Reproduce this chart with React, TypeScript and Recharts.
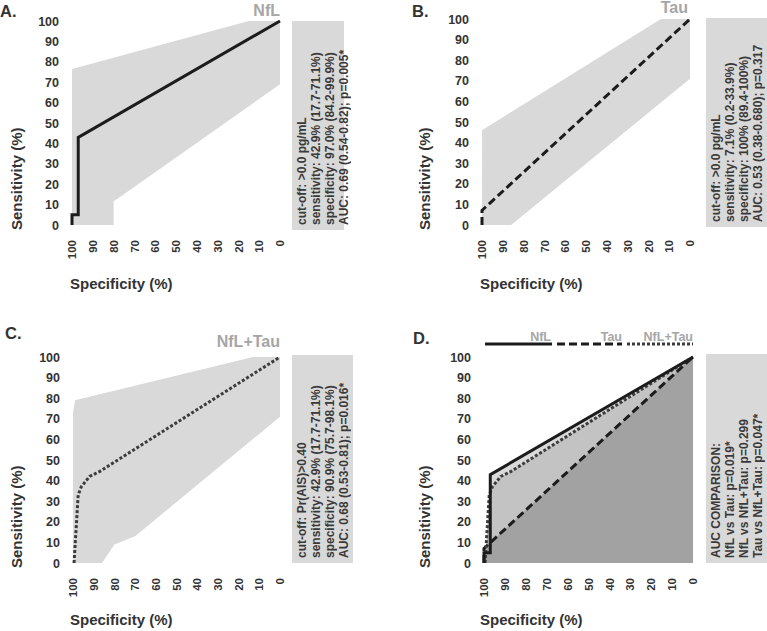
import React from "react";
import { ComposedChart, Line, Area, XAxis, YAxis } from "recharts";

const axisTicks = [0, 10, 20, 30, 40, 50, 60, 70, 80, 90, 100];

// NfL ROC + 95% CI band
const nflSpec = [100, 100, 97, 97, 0];
const nflSens = [0, 5, 5, 42.9, 100];
const nflCiHiSpec = [100, 15, 0];
const nflCiHi = [76.5, 100, 100];
const nflCiLoSpec = [100, 80, 80, 0];
const nflCiLo = [0, 0, 11.5, 69];

// Tau ROC + 95% CI band
const tauSpec = [100, 100, 0];
const tauSens = [0, 7.1, 100];
const tauCiHiSpec = [100, 14, 0];
const tauCiHi = [46, 100, 100];
const tauCiLoSpec = [100, 86, 0];
const tauCiLo = [0, 0, 71];

// NfL+Tau ROC + 95% CI band
const comboSpec = [99.5, 97.5, 96, 92, 87, 0];
const comboSens = [0, 33, 37, 42, 44.5, 100];
const comboCiHiSpec = [100, 99, 13, 0];
const comboCiHi = [73, 79, 100, 100];
const comboCiLoSpec = [100, 86, 80, 70, 0];
const comboCiLo = [0, 0, 9, 13, 71];

const boxA = ["cut-off: >0.0 pg/mL", "sensitivity: 42.9% (17.7-71.1%)", "specificity: 97.0% (84.2-99.9%)", "AUC: 0.69 (0.54-0.82); p=0.005*"];
const boxB = ["cut-off: >0.0 pg/mL", "sensitivity: 7.1% (0.2-33.9%)", "specificity: 100% (89.4-100%)", "AUC: 0.53 (0.38-0.680); p=0.317"];
const boxC = ["cut-off: Pr(AIS)>0.40", "sensitivity: 42.9% (17.7-71.1%)", "specificity: 90.9% (75.7-98.1%)", "AUC: 0.68 (0.53-0.81); p=0.016*"];
const boxD = ["AUC COMPARISON:", "NfL vs Tau: p=0.019*", "NfL vs NfL+Tau: p=0.299", "Tau vs NfL+Tau: p=0.047*"];

const FONT = "'Liberation Sans', Arial, sans-serif";
const INK = "#333";
const BAND = "#d9d9d9";

const rows = (key: string, xs: number[], ys: number[]) =>
  xs.map((s, i) => ({ spec: s, [key]: ys[i] }));

const dataA = [...rows("roc", nflSpec, nflSens), ...rows("hi", nflCiHiSpec, nflCiHi), ...rows("lo", nflCiLoSpec, nflCiLo)];
const dataB = [...rows("roc", tauSpec, tauSens), ...rows("hi", tauCiHiSpec, tauCiHi), ...rows("lo", tauCiLoSpec, tauCiLo)];
const dataC = [...rows("roc", comboSpec, comboSens), ...rows("hi", comboCiHiSpec, comboCiHi), ...rows("lo", comboCiLoSpec, comboCiLo)];
const dataD = [...rows("nfl", nflSpec, nflSens), ...rows("tau", tauSpec, tauSens), ...rows("combo", comboSpec, comboSens)];

type Plot = { left: number; right: number; top: number; bottom: number };

const XTick = ({ x, payload, base }: any) => (
  <text
    transform={`translate(${x},${base + 15}) rotate(-90)`}
    textAnchor="end"
    dy="0.36em"
    fontSize={11.5}
    fontWeight="bold"
    fontFamily={FONT}
    fill={INK}
  >
    {payload.value}
  </text>
);

const YTick = ({ y, payload, edge }: any) => (
  <text x={edge} y={y} dy="0.36em" textAnchor="end" fontSize={12.5} fontWeight="bold" fontFamily={FONT} fill={INK}>
    {payload.value}
  </text>
);

const RocFrame = ({ plot, data, children }: { plot: Plot; data: any[]; children: React.ReactNode }) => (
  <ComposedChart
    width={plot.right + 10}
    height={plot.bottom + 40}
    data={data}
    margin={{ top: plot.top, right: 10, left: 0, bottom: 0 }}
  >
    <XAxis
      type="number"
      dataKey="spec"
      domain={[0, 100]}
      reversed
      ticks={axisTicks}
      interval={0}
      height={40}
      axisLine={false}
      tickLine={false}
      tick={(p: any) => <XTick {...p} base={plot.bottom} />}
    />
    <YAxis
      type="number"
      domain={[0, 100]}
      ticks={axisTicks}
      interval={0}
      width={plot.left}
      axisLine={false}
      tickLine={false}
      tick={(p: any) => <YTick {...p} edge={plot.left - 13} />}
    />
    {children}
  </ComposedChart>
);

const InfoBox = ({ x, y, w, h, lines }: { x: number; y: number; w: number; h: number; lines: string[] }) => (
  <div style={{ position: "absolute", left: x, top: y, width: w, height: h, background: BAND }}>
    <div
      style={{
        position: "absolute",
        left: 0,
        top: 0,
        height: "100%",
        boxSizing: "border-box",
        writingMode: "vertical-rl",
        transform: "rotate(180deg)",
        paddingTop: 5,
        paddingRight: 3,
        fontFamily: FONT,
        fontSize: 12,
        fontWeight: "bold",
        lineHeight: "14px",
        color: "#3a3a3a",
        whiteSpace: "nowrap",
      }}
    >
      {lines.map((l) => (
        <div key={l}>{l}</div>
      ))}
    </div>
  </div>
);

type Labels = { letter: [string, number, number]; title?: [string, number, number]; sens: [number, number]; spec: [number, number] };

const Overlay = ({ labels, children }: { labels: Labels; children?: React.ReactNode }) => (
  <svg width={383} height={316} style={{ position: "absolute", left: 0, top: 0, pointerEvents: "none" }} fontFamily={FONT} fontWeight="bold">
    <text x={labels.letter[1]} y={labels.letter[2]} fontSize={16.5} fill={INK}>{labels.letter[0]}</text>
    {labels.title && (
      <text x={labels.title[1]} y={labels.title[2]} fontSize={16} fill="#a6a6a6" textAnchor="end">{labels.title[0]}</text>
    )}
    <text transform={`translate(${labels.sens[0]},${labels.sens[1]}) rotate(-90)`} fontSize={15} fill={INK}>Sensitivity (%)</text>
    <text x={labels.spec[0]} y={labels.spec[1]} fontSize={15} fill={INK}>Specificity (%)</text>
    {children}
  </svg>
);

const curve = { type: "linear" as const, dot: false, activeDot: false, connectNulls: true, isAnimationActive: false };
const solid = { stroke: "#1c1c1c", strokeWidth: 3 };
const dashed = { stroke: "#1c1c1c", strokeWidth: 3, strokeDasharray: "8 4" };
const dotted = { stroke: "#3c3c3c", strokeWidth: 3, strokeDasharray: "3 2" };

const BandAreas = () => null;

const Panel = ({ x, y, children }: { x: number; y: number; children: React.ReactNode }) => (
  <div style={{ position: "absolute", left: x, top: y, width: 383, height: 316 }}>{children}</div>
);

export default function App() {
  const pA: Plot = { left: 72, right: 280, top: 21, bottom: 225 };
  const pB: Plot = { left: 97, right: 305, top: 19, bottom: 225 };
  const pC: Plot = { left: 73, right: 280, top: 42, bottom: 248 };
  const pD: Plot = { left: 99, right: 308, top: 42, bottom: 248 };

  return (
    <div style={{ position: "absolute", left: 0, top: 0, width: 767, height: 631, background: "#fff", overflow: "hidden" }}>
      <Panel x={0} y={0}>
        <RocFrame plot={pA} data={dataA}>
          <Area {...curve} dataKey="hi" stroke="none" fill={BAND} fillOpacity={1} />
          <Area {...curve} dataKey="lo" stroke="none" fill="#fff" fillOpacity={1} />
          <Line {...curve} dataKey="roc" {...solid} />
        </RocFrame>
        <Overlay labels={{ letter: ["A.", 0, 17], title: ["NfL", 280, 15.5], sens: [22, 230], spec: [70, 289] }} />
      </Panel>
      <InfoBox x={292} y={21} w={52} h={209} lines={boxA} />

      <Panel x={385} y={0}>
        <RocFrame plot={pB} data={dataB}>
          <Area {...curve} dataKey="hi" stroke="none" fill={BAND} fillOpacity={1} />
          <Area {...curve} dataKey="lo" stroke="none" fill="#fff" fillOpacity={1} />
          <Line {...curve} dataKey="roc" {...dashed} />
        </RocFrame>
        <Overlay labels={{ letter: ["B.", 27, 17], title: ["Tau", 303, 12.5], sens: [45, 230], spec: [95, 289] }} />
      </Panel>
      <InfoBox x={706} y={18} w={70} h={209} lines={boxB} />

      <Panel x={0} y={315}>
        <RocFrame plot={pC} data={dataC}>
          <Area {...curve} dataKey="hi" stroke="none" fill={BAND} fillOpacity={1} />
          <Area {...curve} dataKey="lo" stroke="none" fill="#fff" fillOpacity={1} />
          <Line {...curve} dataKey="roc" {...dotted} />
        </RocFrame>
        <Overlay labels={{ letter: ["C.", 5, 24], title: ["NfL+Tau", 280, 32], sens: [22, 253], spec: [70, 310] }} />
      </Panel>
      <InfoBox x={292} y={355} w={61} h={208} lines={boxC} />

      <Panel x={385} y={315}>
        <RocFrame plot={pD} data={dataD}>
          <Area {...curve} dataKey="nfl" stroke="none" fill="#dadada" fillOpacity={1} />
          <Area {...curve} dataKey="combo" stroke="none" fill="#c3c3c3" fillOpacity={1} />
          <Area {...curve} dataKey="tau" stroke="none" fill="#a2a2a2" fillOpacity={1} />
          <Line {...curve} dataKey="tau" {...dashed} />
          <Line {...curve} dataKey="combo" {...dotted} />
          <Line {...curve} dataKey="nfl" {...solid} />
        </RocFrame>
        <Overlay labels={{ letter: ["D.", 28, 29], sens: [45, 253], spec: [95, 310] }}>
          <line x1={100} x2={167} y1={29} y2={29} {...solid} />
          <line x1={172} x2={237} y1={29} y2={29} {...dashed} />
          <line x1={242} x2={308} y1={29} y2={29} {...dotted} />
          <text x={166} y={26} fontSize={12.5} fill="#a6a6a6" textAnchor="end">NfL</text>
          <text x={237} y={26} fontSize={12.5} fill="#a6a6a6" textAnchor="end">Tau</text>
          <text x={308} y={26} fontSize={12.5} fill="#a6a6a6" textAnchor="end">NfL+Tau</text>
        </Overlay>
      </Panel>
      <InfoBox x={706} y={354} w={70} h={209} lines={boxD} />
    </div>
  );
}
